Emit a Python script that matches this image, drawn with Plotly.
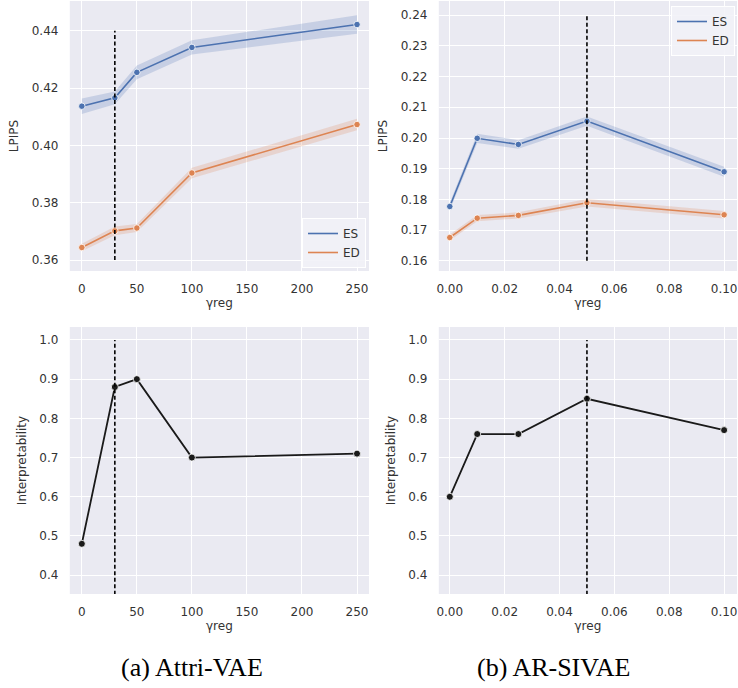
import plotly.graph_objects as go

# ---------------- data ----------------
# (a) Attri-VAE
gamma_a = [0, 30, 50, 100, 250]
es_a = [0.4137, 0.4166, 0.4255, 0.4342, 0.4422]
es_a_err = [0.0027, 0.0022, 0.0024, 0.0025, 0.0032]
ed_a = [0.3644, 0.3702, 0.3712, 0.3904, 0.4073]
ed_a_err = [0.0013, 0.0015, 0.0014, 0.0018, 0.0020]
interp_a = [0.48, 0.88, 0.90, 0.70, 0.71]
best_a = 30

# (b) AR-SIVAE
gamma_b = [0.0, 0.01, 0.025, 0.05, 0.1]
es_b = [0.1777, 0.1999, 0.1979, 0.2055, 0.1890]
es_b_err = [0.0012, 0.0015, 0.0014, 0.0015, 0.0016]
ed_b = [0.1676, 0.1739, 0.1748, 0.1789, 0.1750]
ed_b_err = [0.0010, 0.0010, 0.0010, 0.0012, 0.0012]
interp_b = [0.60, 0.76, 0.76, 0.85, 0.77]
best_b = 0.05

# vertical marker extents
vline_lpips_a = [0.36, 0.44]
vline_lpips_b = [0.16, 0.24]
vline_interp = [0.35, 1.0]

xticks_a = [0, 50, 100, 150, 200, 250]
xticks_b = [0.0, 0.02, 0.04, 0.06, 0.08, 0.10]
yticks_lpips_a = [0.36, 0.38, 0.40, 0.42, 0.44]
yticks_lpips_b = [0.16, 0.17, 0.18, 0.19, 0.20, 0.21, 0.22, 0.23, 0.24]
yticks_interp = [0.4, 0.5, 0.6, 0.7, 0.8, 0.9, 1.0]

series_names = ["ES", "ED"]
captions = ["(a) Attri-VAE", "(b) AR-SIVAE"]

# ---------------- style ----------------
W, H = 738, 688
BLUE = "#4C72B0"
ORANGE = "#DD8452"
BLUE_FILL = "rgba(76,114,176,0.22)"
ORANGE_FILL = "rgba(221,132,82,0.22)"
BG = "#EAEAF2"
TXT = "#333333"
FONT = "DejaVu Sans"


def px_x(p):
    return p / W


def px_y(p):
    return 1 - p / H


fig = go.Figure()


def band(x, y, err, fill, xa, ya):
    lo = [v - e for v, e in zip(y, err)]
    hi = [v + e for v, e in zip(y, err)]
    fig.add_trace(go.Scatter(
        x=list(x) + list(x)[::-1], y=hi + lo[::-1], fill="toself",
        fillcolor=fill, line=dict(width=0), mode="lines",
        showlegend=False, hoverinfo="skip", xaxis=xa, yaxis=ya))


def line(x, y, color, xa, ya, width=1.6, msize=6.5):
    fig.add_trace(go.Scatter(
        x=x, y=y, mode="lines+markers",
        line=dict(color=color, width=width),
        marker=dict(color=color, size=msize, line=dict(color="white", width=0.8)),
        showlegend=False, xaxis=xa, yaxis=ya))


def vline(xv, yext, xa, ya):
    fig.add_trace(go.Scatter(
        x=[xv, xv], y=yext, mode="lines",
        line=dict(color="black", width=1.6, dash="4px,2.5px"),
        showlegend=False, hoverinfo="skip", xaxis=xa, yaxis=ya))


# top-left
band(gamma_a, es_a, es_a_err, BLUE_FILL, "x", "y")
band(gamma_a, ed_a, ed_a_err, ORANGE_FILL, "x", "y")
line(gamma_a, es_a, BLUE, "x", "y")
line(gamma_a, ed_a, ORANGE, "x", "y")
vline(best_a, vline_lpips_a, "x", "y")

# top-right
band(gamma_b, es_b, es_b_err, BLUE_FILL, "x2", "y2")
band(gamma_b, ed_b, ed_b_err, ORANGE_FILL, "x2", "y2")
line(gamma_b, es_b, BLUE, "x2", "y2")
line(gamma_b, ed_b, ORANGE, "x2", "y2")
vline(best_b, vline_lpips_b, "x2", "y2")

# bottom
line(gamma_a, interp_a, "#1a1a1a", "x3", "y3", width=1.8, msize=7)
vline(best_a, vline_interp, "x3", "y3")
line(gamma_b, interp_b, "#1a1a1a", "x4", "y4", width=1.8, msize=7)
vline(best_b, vline_interp, "x4", "y4")

# legend-only traces
for name, col in zip(series_names, [BLUE, ORANGE]):
    fig.add_trace(go.Scatter(x=[None], y=[None], mode="lines", name=name,
                             line=dict(color=col, width=1.6),
                             xaxis="x", yaxis="y", legend="legend"))
for name, col in zip(series_names, [BLUE, ORANGE]):
    fig.add_trace(go.Scatter(x=[None], y=[None], mode="lines", name=name,
                             line=dict(color=col, width=1.6),
                             xaxis="x2", yaxis="y2", legend="legend2"))

# ---------------- axes ----------------
LEFT = [px_x(68), px_x(368)]
RIGHT = [px_x(438), px_x(737)]
TOP = [px_y(271), px_y(1)]
BOT = [px_y(594), px_y(327)]


def xax(domain, rng, ticks, fmt, anchor):
    return dict(domain=domain, range=rng, tickvals=ticks, tickformat=fmt,
                showgrid=True, gridcolor="white", gridwidth=1.2, zeroline=False,
                showline=False, ticks="outside", ticklen=7, tickcolor="rgba(0,0,0,0)",
                tickfont=dict(family=FONT, size=12, color=TXT),
                title=dict(text="γreg", font=dict(family=FONT, size=12, color=TXT), standoff=3),
                anchor=anchor)


def yax(domain, rng, ticks, fmt, title, anchor):
    return dict(domain=domain, range=rng, tickvals=ticks, tickformat=fmt,
                showgrid=True, gridcolor="white", gridwidth=1.2, zeroline=False,
                showline=False, ticks="outside", ticklen=8, tickcolor="rgba(0,0,0,0)",
                tickfont=dict(family=FONT, size=12, color=TXT),
                title=dict(text=title, font=dict(family=FONT, size=12, color=TXT), standoff=10),
                anchor=anchor)


fig.update_layout(
    width=W, height=H, margin=dict(l=0, r=0, t=0, b=0),
    paper_bgcolor="white", plot_bgcolor=BG,
    font=dict(family=FONT, size=12, color=TXT),
    xaxis=xax(LEFT, [-10.9, 260.9], xticks_a, "d", "y"),
    yaxis=yax(TOP, [0.3562, 0.4504], yticks_lpips_a, ".2f", "LPIPS", "x"),
    xaxis2=xax(RIGHT, [-0.004, 0.1047], xticks_b, ".2f", "y2"),
    yaxis2=yax(TOP, [0.1567, 0.2446], yticks_lpips_b, ".2f", "LPIPS", "x2"),
    xaxis3=xax(LEFT, [-10.9, 260.9], xticks_a, "d", "y3"),
    yaxis3=yax(BOT, [0.352, 1.033], yticks_interp, ".1f", "Interpretability", "x3"),
    xaxis4=xax(RIGHT, [-0.004, 0.1047], xticks_b, ".2f", "y4"),
    yaxis4=yax(BOT, [0.352, 1.033], yticks_interp, ".1f", "Interpretability", "x4"),
    legend=dict(x=px_x(365), y=px_y(268), xanchor="right", yanchor="bottom",
                bgcolor="rgba(242,242,247,0.9)", bordercolor="white", borderwidth=1,
                font=dict(family=FONT, size=12, color=TXT), itemwidth=30,
                tracegroupgap=0),
    legend2=dict(x=px_x(735), y=px_y(6), xanchor="right", yanchor="top",
                 bgcolor="rgba(242,242,247,0.9)", bordercolor="white", borderwidth=1,
                 font=dict(family=FONT, size=12, color=TXT), itemwidth=30,
                 tracegroupgap=0),
    annotations=[
        dict(text=captions[0], x=px_x(191), y=px_y(667), xref="paper", yref="paper",
             xanchor="center", yanchor="middle",
             showarrow=False, font=dict(family="Liberation Serif", size=26, color="black")),
        dict(text=captions[1], x=px_x(553), y=px_y(667), xref="paper", yref="paper",
             xanchor="center", yanchor="middle",
             showarrow=False, font=dict(family="Liberation Serif", size=26, color="black")),
    ],
)

fig.write_html("out.html", config={"displayModeBar": False},
               post_script="document.body.style.margin='0';document.body.style.padding='0';document.body.style.overflow='hidden';")
